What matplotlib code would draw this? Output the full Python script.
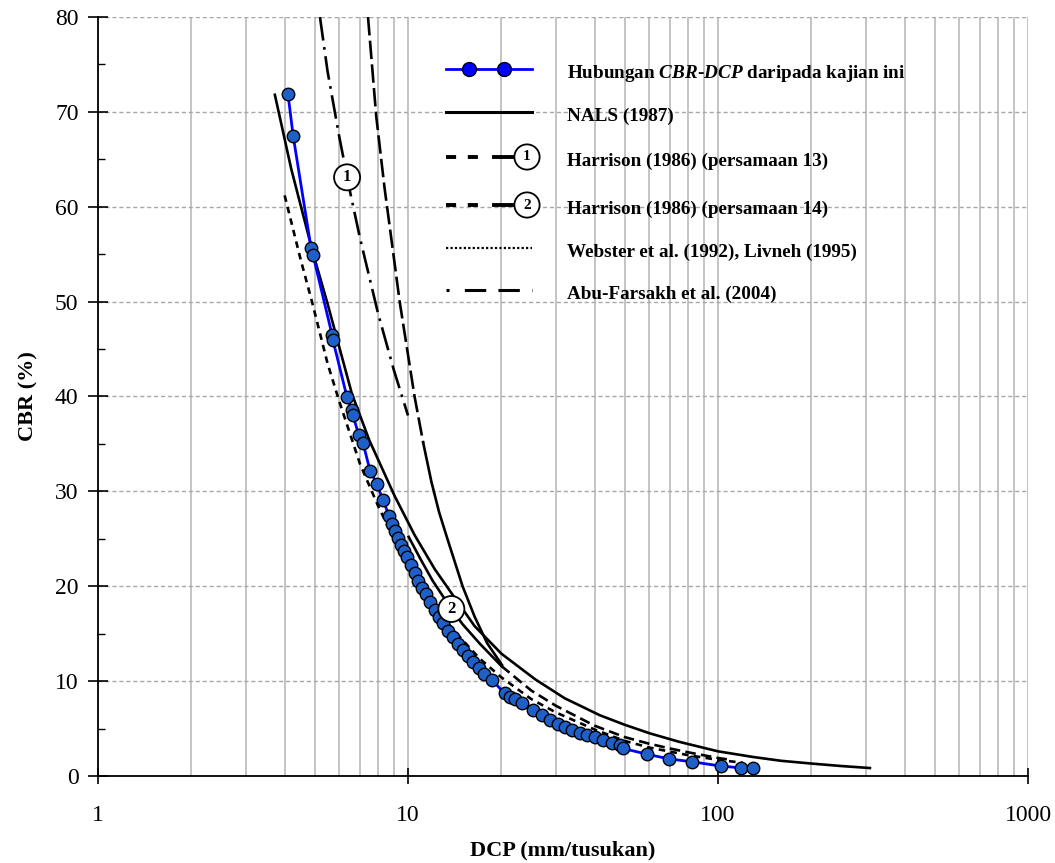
import matplotlib
matplotlib.use("Agg")
import matplotlib.pyplot as plt
from matplotlib.ticker import FixedLocator, LogLocator, NullFormatter, FuncFormatter, MultipleLocator

# data
dcp_data = [4.10, 4.26, 4.87, 4.94, 5.69, 5.72, 6.36, 6.59, 6.64, 6.95, 7.16, 7.54, 7.93, 8.30,
            8.7, 8.9, 9.1, 9.3, 9.5, 9.7, 9.9, 10.2, 10.5, 10.8, 11.1, 11.4, 11.8, 12.2, 12.6,
            13.0, 13.5, 14.0, 14.5, 15.0, 15.6, 16.2, 16.9, 17.6, 18.7, 20.5, 21.3, 22.1, 23.3,
            25.3, 27.0, 28.7, 30.5, 32.1, 33.8, 35.9, 37.8, 40.1, 42.6, 45.5, 48.3, 49.4, 59.0,
            69.5, 82.5, 102, 119, 130]
cbr_data = [71.9, 67.5, 55.6, 54.9, 46.5, 46.0, 39.9, 38.6, 38.0, 35.9, 35.1, 32.2, 30.8, 29.1,
            27.4, 26.6, 25.8, 25.1, 24.4, 23.7, 23.1, 22.2, 21.4, 20.6, 19.8, 19.2, 18.3, 17.5, 16.8,
            16.1, 15.3, 14.6, 13.9, 13.3, 12.6, 12.0, 11.4, 10.8, 10.1, 8.7, 8.3, 8.1, 7.7,
            7.0, 6.4, 5.9, 5.5, 5.2, 4.8, 4.5, 4.3, 4.1, 3.8, 3.5, 3.3, 2.9, 2.3,
            1.8, 1.5, 1.05, 0.85, 0.85]

dcp_nals = [3.72, 4.2, 4.94, 5.5, 6.59, 7.5, 9.06, 10.5, 12.2, 14.0, 16.4, 20.0, 25.7, 32.0,
            41.6, 50.0, 60.2, 75.0, 100, 130, 160, 202, 250, 309]
cbr_nals = [71.8, 64.0, 55.1, 49.8, 40.3, 35.4, 29.5, 25.4, 21.8, 19.0, 15.8, 12.9, 10.2, 8.2,
            6.4, 5.4, 4.5, 3.6, 2.6, 2.0, 1.6, 1.3, 1.05, 0.84]

dcp_h13 = [5.2, 5.5, 6.0, 6.5, 7.0, 8.0, 9.0, 10.0]
cbr_h13 = [80.0, 74.3, 67.4, 61.6, 56.7, 48.8, 42.8, 38.0]

dcp_steep = [7.43, 7.9, 8.4, 8.93, 9.4, 9.9, 10.5, 11.2]
cbr_steep = [80.0, 69.5, 62.0, 55.5, 50.0, 45.3, 40.0, 35.1]
dcp_steep_b = [11.2, 11.9, 12.6, 13.4, 15.0, 16.4, 18.0, 20.1]
cbr_steep_b = [35.1, 31.0, 27.8, 25.0, 20.0, 16.8, 14.0, 11.7]

dcp_h14 = [10.05, 11.0, 12.0, 13.8, 15.0, 17.1, 20.0]
cbr_h14 = [25.2, 22.8, 20.6, 17.6, 16.0, 13.9, 11.6]
dcp_h14_b = [20.0, 25.0, 30.0, 40.0, 50.0, 60.0, 70.0, 80.0, 100, 110]
cbr_h14_b = [11.6, 9.0, 7.4, 5.3, 4.1, 3.4, 2.9, 2.5, 1.9, 1.7]

dcp_web = [4.0, 4.5, 4.9, 5.5, 6.0, 7.0, 8.0, 9.0, 10.0, 12.0, 14.0, 17.0, 20.0, 25.0, 30.0,
           40.0, 50.0, 60.0, 80.0, 100, 120]
cbr_web = [61.2, 54.5, 50.0, 43.5, 39.5, 32.9, 28.5, 25.0, 22.2, 18.2, 15.4, 12.4, 10.4, 8.1, 6.7,
           4.9, 3.7, 3.0, 2.2, 1.7, 1.4]

legend_labels = [r"Hubungan $\mathit{CBR}$-$\mathit{DCP}$ daripada kajian ini",
                 "NALS (1987)",
                 "Harrison (1986) (persamaan 13)",
                 "Harrison (1986) (persamaan 14)",
                 "Webster et al. (1992), Livneh (1995)",
                 "Abu-Farsakh et al. (2004)"]

plt.rcParams['font.family'] = ['Liberation Serif', 'DejaVu Serif']
plt.rcParams['mathtext.fontset'] = 'custom'
plt.rcParams['mathtext.it'] = 'Liberation Serif:bold:italic'
plt.rcParams['mathtext.rm'] = 'Liberation Serif:bold'

W, H = 1055, 863
fig = plt.figure(figsize=(W / 100, H / 100), dpi=100)
ax = fig.add_axes([98 / W, 87 / H, 930 / W, 759 / H])

ax.set_xscale('log')
ax.set_xlim(1, 1000)
ax.set_ylim(0, 80)

ax.xaxis.set_major_locator(FixedLocator([1, 10, 100, 1000]))
ax.xaxis.set_minor_locator(LogLocator(base=10, subs=range(2, 10)))
ax.xaxis.set_major_formatter(FuncFormatter(lambda v, p: "%g" % v))
ax.xaxis.set_minor_formatter(NullFormatter())
ax.yaxis.set_major_locator(MultipleLocator(10))
ax.yaxis.set_minor_locator(MultipleLocator(5))

ax.grid(which='both', axis='x', color='#c4c4c4', lw=1.4, ls='-')
ax.grid(which='major', axis='y', color='#a8a8a8', lw=1.0, ls=(0, (3, 2)))
ax.set_axisbelow(True)

for s in ['top', 'right']:
    ax.spines[s].set_visible(False)
for s in ['left', 'bottom']:
    ax.spines[s].set_linewidth(1.3)

ax.tick_params(axis='x', which='major', direction='inout', length=12, width=1.2,
               labelsize=17, pad=15)
ax.tick_params(axis='x', which='minor', length=0)
ax.tick_params(axis='y', which='major', direction='inout', length=14, width=1.2,
               labelsize=17, pad=7)
ax.tick_params(axis='y', which='minor', direction='in', length=5, width=1.0)

ax.set_xlabel("DCP (mm/tusukan)", fontsize=16, fontweight='bold', labelpad=10)
ax.set_ylabel("CBR (%)", fontsize=16, fontweight='bold', labelpad=12)

lw = 1.9
ax.plot(dcp_nals, cbr_nals, color='black', lw=lw, zorder=3)
ax.plot(dcp_web, cbr_web, color='black', lw=lw, dashes=(2.5, 2), zorder=3)
ax.plot(dcp_h13, cbr_h13, color='black', lw=lw, dashes=(9, 2.5, 1, 2.5), zorder=3)
ax.plot(dcp_steep, cbr_steep, color='black', lw=lw, dashes=(7, 2), zorder=3)
ax.plot(dcp_steep_b, cbr_steep_b, color='black', lw=lw, zorder=3)
ax.plot(dcp_h14, cbr_h14, color='black', lw=lw, zorder=3)
ax.plot(dcp_h14_b, cbr_h14_b, color='black', lw=lw, dashes=(4, 2), zorder=3)

ax.plot(dcp_data, cbr_data, color='#0000ff', lw=2, marker='o', ms=9,
        mfc='#1f5fc8', mec='black', mew=1, zorder=5)

circ = dict(boxstyle='circle,pad=0.3', fc='white', ec='black', lw=1.3)
ax.text(6.36, 63.1, '1', ha='center', va='center', fontsize=12, fontweight='bold',
        bbox=circ, zorder=6)
ax.text(13.8, 17.6, '2', ha='center', va='center', fontsize=12, fontweight='bold',
        bbox=circ, zorder=6)

# legend, drawn by hand in axes fraction
def fx(px):
    return (px - 98) / 930

def fy(py):
    return (776 - py) / 759

rows = [69, 112, 157, 205, 248, 290]
x0, x1 = 446, 532
kw = dict(transform=ax.transAxes, clip_on=False, color='black', zorder=7)

ax.plot([fx(x0), fx(x1)], [fy(rows[0])] * 2, color='#0000ff', lw=2,
        transform=ax.transAxes, clip_on=False, zorder=7)
ax.plot([fx(469), fx(504)], [fy(rows[0])] * 2, ls='none', marker='o', ms=10,
        mfc='#0000ff', mec='black', mew=1, transform=ax.transAxes, clip_on=False, zorder=8)
ax.plot([fx(x0), fx(x1)], [fy(rows[1])] * 2, lw=2.2, **kw)
circ_leg = dict(boxstyle='circle,pad=0.4', fc='white', ec='black', lw=1.3)
for r, lab in [(rows[2], '1'), (rows[3], '2')]:
    ax.plot([fx(x0), fx(488)], [fy(r)] * 2, lw=2.8, dashes=(2.6, 3.0), **kw)
    ax.plot([fx(494), fx(516)], [fy(r)] * 2, lw=2.8, **kw)
    ax.text(fx(527), fy(r), lab, ha='center', va='center', fontsize=11, fontweight='bold',
            bbox=circ_leg, transform=ax.transAxes, zorder=8)
ax.plot([fx(x0), fx(x1)], [fy(rows[4])] * 2, lw=1.6, dashes=(1, 1), **kw)
ax.plot([fx(x0), fx(x1)], [fy(rows[5])] * 2, lw=2.2, dashes=(1, 5, 7, 4, 7, 4, 7, 4), **kw)

for r, lab in zip(rows, legend_labels):
    ax.text(fx(567), fy(r + 4), lab, ha='left', va='center', fontsize=13.8,
            fontweight='bold', transform=ax.transAxes, zorder=8)

fig.savefig("out.png", dpi=100)
